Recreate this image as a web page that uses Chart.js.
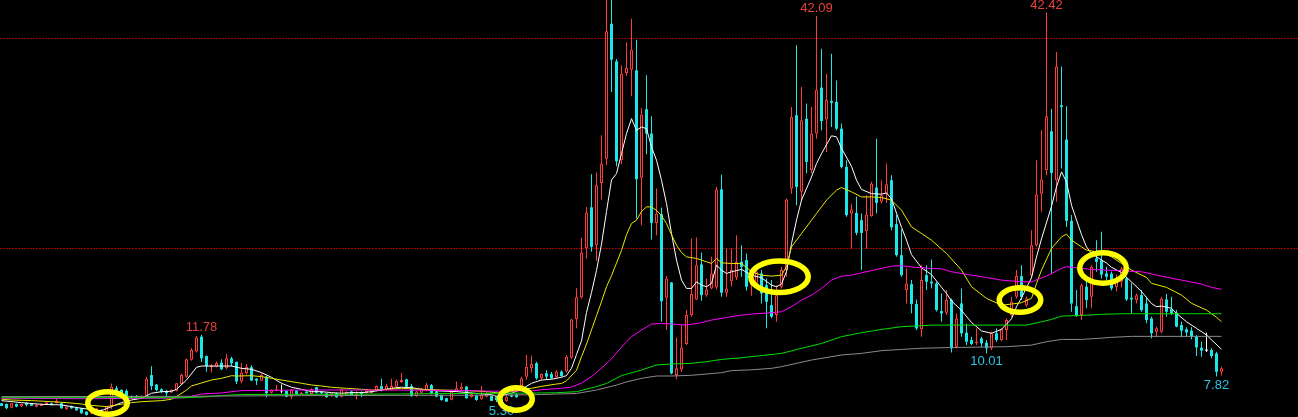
<!DOCTYPE html>
<html>
<head>
<meta charset="utf-8">
<script src="https://cdn.jsdelivr.net/npm/chart.js@4.4.0/dist/chart.umd.min.js"></script>
<style>
html,body{margin:0;padding:0;background:#000;overflow:hidden}
#wrap{width:1298px;height:417px;position:relative}
canvas{display:block}
</style>
</head>
<body>
<div id="wrap"><canvas id="c" width="1298" height="417"></canvas></div>
<script>
// ---------- DATA ----------
const opens = [
5.27,5.20,4.85,5.20,4.95,5.30,5.27,4.93,5.02,5.20,
5.27,5.27,5.27,4.70,5.00,4.80,4.79,4.47,4.30,4.47,
4.63,4.47,4.95,6.70,6.55,6.45,5.95,5.95,5.72,5.90,
7.95,7.04,6.60,6.45,6.30,6.45,7.10,7.80,9.40,10.20,
11.60,9.76,8.70,8.75,9.13,8.60,9.54,9.20,7.33,8.12,
8.70,7.60,7.42,7.80,6.28,6.45,6.40,6.45,5.90,6.45,
6.15,6.38,6.15,6.80,6.38,6.22,5.95,6.22,5.90,6.00,
6.38,6.10,6.30,6.22,6.22,6.45,6.90,6.50,6.53,6.85,
7.30,7.55,6.90,5.95,6.28,6.47,7.00,6.38,6.06,5.75,
5.60,6.38,6.60,6.85,5.85,6.02,5.65,5.90,5.97,5.84,
5.65,5.45,6.06,6.10,6.90,7.80,8.60,9.07,7.64,8.12,
8.05,7.74,8.28,8.28,9.60,13.27,15.36,20.00,23.90,20.30,
26.22,28.53,41.35,37.78,28.38,36.67,36.99,36.92,26.70,33.22,
30.91,22.42,23.25,15.30,16.76,7.96,8.49,10.90,13.65,15.14,
18.47,15.55,16.19,16.28,25.60,15.78,16.88,17.23,18.72,18.88,
16.50,16.66,17.60,16.50,14.60,13.65,16.35,17.93,25.68,32.65,
25.37,32.33,27.43,30.91,35.28,32.24,34.01,33.92,31.38,27.74,
23.31,23.37,22.68,21.63,23.06,25.78,24.42,25.20,26.48,22.30,
19.35,16.03,16.60,14.70,12.30,17.45,16.82,16.66,14.03,13.87,
15.08,10.65,14.76,11.98,11.28,11.00,11.44,11.03,10.49,11.92,
11.28,12.23,13.65,15.39,17.36,14.60,17.45,20.30,25.20,27.43,
31.13,26.48,33.60,30.34,22.61,14.50,13.65,16.35,15.39,19.04,
18.88,17.61,17.60,16.30,16.82,17.14,15.30,15.08,15.55,14.76,
13.34,12.07,12.07,15.14,14.20,13.88,12.70,12.30,12.17,11.60,
10.55,10.27,10.33,10.01,8.27];
const highs = [
5.30,5.25,5.30,5.25,5.22,5.40,5.30,5.18,5.24,5.40,
5.35,5.70,5.35,5.00,5.05,4.85,4.85,4.50,4.55,4.85,
4.70,5.00,7.15,6.90,6.60,6.60,6.00,6.05,6.00,7.80,
8.80,7.10,6.70,6.53,6.60,7.20,8.10,9.50,10.50,11.65,
11.78,9.80,9.00,9.25,9.45,9.95,9.70,9.25,9.13,9.00,
8.90,7.65,8.10,7.85,6.60,7.00,7.05,6.50,6.60,6.50,
6.35,6.40,6.70,6.85,6.40,6.25,6.25,6.30,6.65,6.40,
6.45,6.40,6.40,6.50,6.45,6.95,7.60,7.10,7.60,7.50,
8.15,7.60,7.10,6.45,6.70,7.20,7.10,6.45,6.10,5.80,
6.50,7.33,7.20,6.90,6.30,6.10,6.90,6.35,6.00,5.90,
5.70,6.00,6.10,6.20,7.80,9.86,9.80,9.22,8.10,8.40,
8.25,8.40,8.40,9.86,13.30,16.20,21.00,23.90,27.05,27.20,
30.75,44.50,44.00,38.00,37.40,39.60,41.83,39.83,33.35,36.45,
32.55,25.68,23.88,17.36,16.80,11.53,12.70,14.13,20.90,21.03,
19.60,17.14,19.20,25.84,27.00,19.99,19.99,21.25,20.30,19.50,
17.30,18.20,17.93,17.14,16.98,16.50,18.24,24.74,33.44,39.30,
35.34,33.76,33.44,42.09,38.98,36.61,38.50,35.97,31.86,28.38,
24.20,24.90,23.31,25.05,26.32,30.43,26.48,28.06,26.95,23.16,
21.79,18.09,16.98,15.14,18.40,18.40,18.94,16.80,15.71,16.03,
15.24,13.81,16.19,12.86,11.60,12.39,11.60,11.28,12.07,12.39,
12.39,13.34,15.39,17.93,18.40,15.39,21.73,28.38,31.22,42.42,
33.28,38.66,37.30,33.50,23.16,16.03,16.66,17.30,18.40,20.78,
21.57,18.25,17.80,17.50,18.25,17.30,16.67,15.71,16.03,15.39,
13.50,12.55,15.39,15.65,15.39,14.13,13.02,12.49,12.49,11.76,
11.12,11.98,10.49,10.17,8.75];
const lows = [
4.98,4.70,4.80,4.90,4.93,4.95,5.00,4.90,5.00,5.18,
5.05,5.25,4.75,4.65,4.75,4.55,4.28,4.10,4.20,4.40,
4.28,4.40,4.70,6.30,6.10,5.80,5.70,5.75,5.70,5.85,
6.53,6.40,6.22,5.90,6.25,6.40,7.00,7.70,9.30,10.10,
9.20,8.27,8.20,8.70,8.43,8.50,8.80,7.10,7.17,8.00,
7.40,7.00,7.40,5.85,6.20,6.40,6.22,5.85,5.65,6.10,
6.10,6.20,6.10,6.20,6.15,5.80,5.90,5.80,5.85,5.95,
6.00,5.65,5.85,6.20,6.20,6.40,6.40,6.45,6.50,6.80,
7.20,6.80,5.90,5.90,6.20,6.40,6.10,5.85,5.50,5.40,
5.55,6.35,6.50,5.70,5.80,5.50,5.60,5.85,5.45,5.40,
5.30,5.40,5.85,5.80,6.85,7.50,8.20,7.50,7.50,7.50,
7.60,7.70,7.80,8.20,9.50,12.40,15.20,19.00,19.67,18.80,
24.64,27.90,34.86,27.80,28.00,36.40,34.45,22.83,22.20,28.95,
20.84,21.25,13.02,12.23,8.00,7.55,8.27,10.80,13.50,15.08,
15.02,15.40,16.10,16.10,15.40,15.40,16.40,17.00,17.30,16.00,
15.50,16.50,14.76,12.40,13.35,13.02,16.19,17.30,25.20,24.10,
24.42,27.11,27.11,30.43,31.22,29.17,31.54,31.22,27.58,23.00,
19.99,21.25,17.93,19.99,23.00,23.31,24.26,24.32,21.73,19.20,
17.30,14.76,13.82,12.23,11.60,16.03,16.19,14.00,13.02,13.65,
10.10,10.49,11.60,10.80,10.80,10.80,10.65,10.01,10.33,11.12,
11.20,11.28,13.50,15.24,15.08,14.45,17.14,20.14,23.47,26.95,
17.61,24.42,27.58,22.04,13.97,13.50,13.18,14.30,14.30,17.77,
17.14,16.98,16.00,15.90,16.30,15.00,13.82,14.76,13.97,12.87,
11.44,11.54,11.92,13.50,13.65,12.49,11.54,11.60,11.35,9.76,
9.70,10.14,9.54,7.82,7.90];
const closes = [
5.02,4.80,5.27,4.95,5.20,5.11,5.02,5.14,5.20,5.33,
5.08,5.52,4.79,4.95,4.79,4.60,4.32,4.16,4.50,4.79,
4.32,4.95,6.85,6.40,6.22,5.85,5.75,5.80,5.90,7.60,
6.90,6.53,6.35,6.22,6.53,7.17,7.95,9.45,10.33,11.53,
9.54,8.80,8.85,9.10,8.50,9.54,9.07,7.33,8.18,8.75,
7.42,7.42,7.96,6.22,6.53,6.60,6.40,5.90,6.53,6.13,
6.28,6.22,6.60,6.28,6.22,5.85,6.22,5.85,6.60,6.35,
6.06,6.20,6.15,6.45,6.40,6.90,6.45,6.90,6.90,7.42,
7.48,6.85,5.95,6.38,6.60,7.00,6.22,5.90,5.58,5.43,
6.38,6.70,6.85,5.75,6.12,5.58,6.06,6.22,5.50,5.58,
5.45,5.90,5.90,5.85,7.65,8.75,9.00,7.64,8.05,7.80,
7.64,8.28,7.86,9.70,13.24,15.36,19.60,23.40,20.15,26.00,
28.06,40.63,37.94,28.28,36.61,37.18,38.88,26.57,32.71,30.91,
22.42,23.31,14.98,17.14,8.11,8.59,10.58,13.65,15.65,18.40,
15.55,16.09,17.61,25.60,15.78,16.19,17.93,18.72,18.24,16.35,
16.70,17.80,15.71,14.92,13.50,15.55,17.93,24.64,32.49,25.84,
32.17,28.22,30.91,35.09,32.11,34.14,33.85,31.38,27.74,23.16,
23.69,21.47,21.47,23.22,26.16,24.32,25.05,26.10,22.00,19.35,
17.45,16.66,14.70,12.39,16.98,16.82,16.66,14.13,13.81,15.08,
10.49,13.34,11.92,11.12,10.90,11.12,10.96,10.49,11.92,11.28,
12.30,13.18,14.92,17.36,15.39,15.24,20.30,25.12,26.54,32.55,
27.17,37.30,33.44,22.61,14.76,13.56,16.50,15.08,18.24,18.72,
17.50,17.30,16.20,17.00,18.09,15.14,15.14,15.55,14.13,13.18,
11.92,12.39,15.24,13.97,13.82,12.55,12.17,12.00,11.60,10.58,
10.27,10.27,9.76,8.27,8.59];

// moving-average lines, read as [candle index, price] pairs
const maWhite = [[0,5.52],[4,5.33],[8,5.17],[12,5.11],[16,4.79],[20,4.57],[22,4.95],[24,5.33],[26,5.58],[28,5.74],[30,6.22],[32,6.37],[34,6.41],[35,6.6],[37,7.48],[39,8.69],[40,8.81],[43,8.81],[46,8.81],[48,8.59],[50,8.5],[52,8.18],[54,7.74],[56,7.17],[58,6.79],[60,6.6],[62,6.37],[64,6.37],[66,6.28],[68,6.22],[70,6.28],[72,6.28],[74,6.37],[76,6.53],[78,6.69],[80,6.8],[82,6.75],[84,6.6],[87,6.45],[91,6.38],[95,6.2],[98,6.1],[99,5.9],[102,6.22],[104,6.6],[106,7.17],[108,7.48],[110,7.55],[112,7.74],[113,7.9],[114,8.6],[115,9.9],[116,11.2],[117,13.9],[118,15.8],[119,17.9],[120,20.4],[121,23.5],[122,26.5],[123,27.11],[124,29.01],[125,30.91],[126,32.33],[127,31.22],[128,31.54],[129,31.38],[130,29.64],[131,28.38],[132,26.48],[133,24.26],[134,21.41],[135,18.88],[136,16.98],[137,16.19],[138,16.19],[139,16.82],[140,16.5],[141,16.35],[142,16.66],[143,18.4],[144,17.93],[145,17.61],[146,17.77],[148,18.0],[150,17.45],[152,17.2],[154,16.5],[155,16.35],[156,16.6],[157,17.8],[158,20.46],[159,22.68],[160,24.58],[162,26.79],[163,28.06],[164,29.0],[166,30.7],[167,30.6],[168,29.5],[170,27.8],[171,26.48],[172,25.6],[174,25.2],[176,25.15],[177,25.27],[178,24.7],[180,22.0],[181,20.78],[182,19.4],[184,18.15],[186,17.5],[188,16.3],[189,15.71],[190,15.0],[192,14.1],[194,12.95],[196,12.15],[198,11.92],[200,12.3],[202,13.3],[203,14.45],[204,15.3],[206,17.2],[207,19.19],[208,20.9],[210,24.0],[211,25.84],[212,27.27],[213,26.32],[214,24.1],[216,21.3],[217,20.14],[218,19.5],[220,18.9],[221,18.6],[222,18.2],[224,17.7],[226,16.8],[228,15.9],[230,14.75],[231,14.45],[232,14.51],[234,14.3],[235,13.82],[237,13.02],[239,12.39],[241,11.76],[242,11.3],[244,10.4]];
const maYellow = [[0,5.65],[2,5.58],[6,5.52],[10,5.42],[13,5.33],[16,5.2],[17,5.11],[21,4.95],[26,5.33],[28,5.42],[32,5.52],[34,5.65],[35,5.9],[37,6.53],[38,6.91],[40,7.2],[42,7.48],[44,7.64],[46,7.89],[47,7.86],[50,7.89],[52,7.8],[54,7.64],[56,7.48],[58,7.32],[60,7.17],[62,7.01],[64,6.91],[66,6.79],[69,6.69],[72,6.6],[74,6.53],[77,6.6],[80,6.69],[84,6.6],[88,6.53],[93,6.47],[97,6.38],[100,6.22],[102,6.38],[106,6.69],[108,6.88],[111,7.1],[112,7.15],[113,7.4],[115,8.4],[116,9.7],[117,10.9],[119,13.6],[120,14.93],[121,16.35],[122,17.4],[123,18.6],[124,19.8],[125,21.3],[126,22.36],[127,22.68],[128,23.5],[129,23.94],[130,23.94],[131,23.6],[132,23.1],[133,22.36],[134,21.3],[135,20.3],[136,19.6],[137,19.19],[139,19.04],[141,18.72],[142,18.56],[143,19.04],[144,18.62],[146,18.56],[148,18.56],[150,17.77],[152,17.45],[154,17.36],[156,17.45],[157,18.25],[158,20.14],[160,21.41],[163,23.31],[165,24.58],[167,25.53],[168,25.78],[170,25.37],[172,24.89],[174,24.89],[176,24.83],[178,24.58],[180,23.63],[182,22.04],[184,21.41],[186,20.78],[189,19.51],[192,17.93],[194,16.35],[197,15.24],[200,14.6],[202,14.7],[204,14.83],[206,15.24],[207,16.66],[208,17.93],[210,19.99],[212,21.09],[213,21.35],[214,20.78],[216,20.14],[217,19.83],[220,19.6],[222,19.2],[224,18.57],[226,17.93],[229,17.23],[230,16.67],[233,16.29],[236,15.56],[238,14.77],[241,14.13],[243,13.44],[244,13.02]];
const maMagenta = [[0,5.75],[10,5.72],[17,5.7],[28,5.74],[34,5.76],[37,5.8],[38,5.93],[40,6.15],[44,6.25],[46,6.37],[48,6.47],[60,6.53],[80,6.53],[93,6.47],[98,6.42],[106,6.45],[108,6.55],[112,6.7],[114,6.8],[116,7.2],[118,7.8],[120,8.6],[122,9.5],[124,10.6],[126,11.6],[128,12.23],[130,12.8],[132,12.86],[134,12.8],[137,12.7],[140,12.93],[142,13.18],[145,13.43],[148,13.65],[150,13.75],[154,13.88],[156,13.97],[158,14.45],[160,15.08],[162,15.55],[164,16.19],[166,16.98],[168,17.36],[170,17.45],[172,17.67],[175,17.99],[178,18.31],[180,18.34],[183,18.18],[186,18.09],[188,18.05],[190,17.77],[194,17.45],[197,17.23],[200,16.98],[204,16.82],[206,16.82],[209,17.36],[212,18.09],[213,18.25],[216,18.09],[218,17.99],[221,17.93],[224,17.87],[228,17.77],[232,17.36],[236,16.98],[240,16.6],[242,16.29],[244,16.1]];
const maGreen = [[0,5.8],[20,5.8],[36,5.8],[40,5.85],[44,6.0],[48,6.1],[60,6.12],[80,6.15],[90,6.2],[100,6.22],[108,6.25],[111,6.27],[115,6.37],[119,6.85],[121,7.15],[124,7.9],[128,8.43],[131,8.91],[134,9.0],[138,9.07],[141,9.22],[144,9.44],[148,9.6],[152,9.8],[156,10.01],[160,10.49],[164,10.96],[168,11.6],[172,11.98],[176,12.29],[180,12.55],[186,12.7],[205,12.7],[208,13.02],[210,13.24],[212,13.56],[216,13.62],[220,13.72],[224,13.78],[244,13.78]];
const maGray = [[0,5.9],[38,5.93],[44,5.96],[60,5.99],[80,6.02],[100,6.04],[108,6.1],[111,6.15],[115,6.2],[119,6.53],[123,7.0],[125,7.3],[128,7.64],[131,7.86],[134,7.86],[138,7.93],[141,8.05],[144,8.18],[146,8.37],[150,8.45],[154,8.59],[156,8.75],[162,9.38],[168,9.86],[172,10.01],[176,10.27],[180,10.39],[184,10.5],[188,10.55],[201,10.65],[206,10.8],[209,11.12],[212,11.34],[216,11.34],[220,11.46],[222,11.54],[226,11.63],[244,11.63]];

const gridValues = [20, 40];          // dotted price lines
const highMarks = [40, 163, 209];     // candles whose high is labelled
const lowMarks = [100, 197, 243];     // candles whose low is labelled
const circleIdx = [21.2, 102.9, 155.6, 203.7, 220.3];   // hand-drawn yellow rings (index)
const circleVal = [5.29, 5.67, 17.30, 15.09, 18.13];    // hand-drawn yellow rings (price)

// ---------- STYLE ----------
const S = {
  up: '#ff3c3c', down: '#1ee6e6', flat: '#ffffff',
  grid: '#a00000',
  ma: ['#ffffff', '#e8e800', '#ff00ff', '#00e000', '#8a8a8a'],
  ring: '#ffff00', ringLine: 5.5,
  ringW: [45, 38, 63, 47, 52], ringH: [28, 28, 37, 30, 36],
  hi: '#e8403c', lo: '#2bc4e8',
  font: '13px "Liberation Sans", Arial, sans-serif'
};

const idx = opens.map((_, i) => i);
const col = i => closes[i] > opens[i] ? S.up : (closes[i] < opens[i] ? S.down : S.flat);

const overlay = {
  id: 'overlay',
  beforeDraw(chart) {
    const c = chart.ctx; c.save(); c.fillStyle = '#000'; c.fillRect(0, 0, chart.width, chart.height); c.restore();
  },
  beforeDatasetsDraw(chart) {
    const { ctx, chartArea: a, scales: { y } } = chart;
    ctx.save();
    ctx.strokeStyle = S.grid; ctx.lineWidth = 1; ctx.setLineDash([2, 1]);
    gridValues.forEach(v => {
      const py = Math.round(y.getPixelForValue(v)) + 0.5;
      ctx.beginPath(); ctx.moveTo(a.left, py); ctx.lineTo(a.right, py); ctx.stroke();
    });
    ctx.restore();
  },
  afterDatasetsDraw(chart) {
    const { ctx, scales: { x, y } } = chart;
    ctx.save();
    ctx.font = S.font; ctx.textAlign = 'center';
    ctx.fillStyle = S.hi; ctx.textBaseline = 'alphabetic';
    highMarks.forEach(i => ctx.fillText(highs[i].toFixed(2), x.getPixelForValue(i), y.getPixelForValue(highs[i]) - 4));
    ctx.fillStyle = S.lo; ctx.textBaseline = 'top';
    lowMarks.forEach(i => ctx.fillText(lows[i].toFixed(2), x.getPixelForValue(i), y.getPixelForValue(lows[i]) + 2));
    ctx.strokeStyle = S.ring; ctx.lineWidth = S.ringLine;
    circleIdx.forEach((ci, k) => {
      const cx = x.getPixelForValue(ci), cy = y.getPixelForValue(circleVal[k]);
      ctx.beginPath();
      ctx.ellipse(cx, cy, (S.ringW[k] - S.ringLine) / 2, (S.ringH[k] - S.ringLine) / 2, 0, 0, Math.PI * 2);
      ctx.stroke();
    });
    ctx.restore();
  }
};

const maSet = (pts, color) => ({
  type: 'line', data: pts.map(p => ({ x: p[0], y: p[1] })),
  borderColor: color, borderWidth: 1, pointRadius: 0, tension: 0, order: 1, fill: false
});

new Chart(document.getElementById('c'), {
  type: 'bar',
  data: {
    datasets: [
      { label: 'wick', data: idx.map(i => ({ x: i, y: [lows[i], highs[i]] })),
        backgroundColor: idx.map(col), borderWidth: 0, barThickness: 1, grouped: false,
        minBarLength: 1, inflateAmount: 0, order: 3 },
      { label: 'body', data: idx.map(i => ({ x: i, y: [opens[i], closes[i]] })),
        backgroundColor: idx.map(i => closes[i] > opens[i] ? '#000000' : col(i)),
        borderColor: idx.map(col), borderWidth: idx.map(i => closes[i] > opens[i] ? 1 : 0),
        borderSkipped: false, barThickness: 3, grouped: false, minBarLength: 1, inflateAmount: 0, order: 2 },
      maSet(maGray, S.ma[4]),
      maSet(maGreen, S.ma[3]),
      maSet(maMagenta, S.ma[2]),
      maSet(maYellow, S.ma[1]),
      maSet(maWhite, S.ma[0])
    ]
  },
  options: {
    responsive: false, devicePixelRatio: 1, animation: false,
    layout: { padding: 0 },
    plugins: { legend: { display: false }, tooltip: { enabled: false } },
    scales: {
      x: { type: 'linear', min: -0.3, max: 259.3, offset: false, display: false, grid: { display: false } },
      y: { type: 'linear', min: 3.963, max: 43.613, display: false, beginAtZero: false }
    }
  },
  plugins: [overlay]
});
</script>
</body>
</html>
